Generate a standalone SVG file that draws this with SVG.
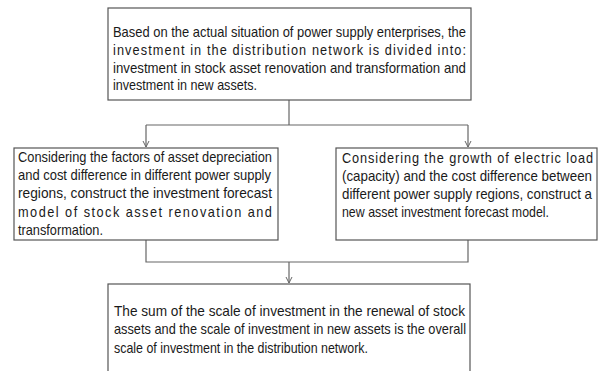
<svg xmlns="http://www.w3.org/2000/svg" width="598" height="371" viewBox="0 0 598 371">
<style>
.box{fill:#fff;stroke:#555;stroke-width:1.2}
.t{font-family:"Liberation Sans",Arial,sans-serif;font-size:14px;fill:#1a1a1a}
.c{fill:none;stroke:#666;stroke-width:1.2}
</style>
<defs>
<marker id="ah" markerWidth="8" markerHeight="8" refX="7" refY="4" orient="auto" markerUnits="userSpaceOnUse">
<path d="M1,1 L7,4 L1,7" fill="none" stroke="#666" stroke-width="1"/>
</marker>
</defs>
<rect width="598" height="371" fill="#fff"/>
<g id="connectors">
<path class="c" d="M289,100 V125"/>
<path class="c" d="M146,125 H468"/>
<path class="c" d="M146,125 V147" marker-end="url(#ah)"/>
<path class="c" d="M468,125 V147" marker-end="url(#ah)"/>
<path class="c" d="M146,240 V262 H468 V240"/>
<path class="c" d="M289,262 V283" marker-end="url(#ah)"/>
</g>
<g id="n1">
<rect class="box" x="108" y="8" width="363" height="92"/>
<g transform="scale(0.91,1)">
<text class="t" x="124.18" y="37" textLength="387.9" lengthAdjust="spacingAndGlyphs">Based on the actual situation of power supply enterprises, the</text>
<text class="t" x="124.18" y="55" textLength="387.9" lengthAdjust="spacing">investment in the distribution network is divided into:</text>
<text class="t" x="124.18" y="73" textLength="387.9" lengthAdjust="spacingAndGlyphs">investment in stock asset renovation and transformation and</text>
<text class="t" x="124.18" y="90" textLength="158.2" lengthAdjust="spacingAndGlyphs">investment in new assets.</text>
</g>
</g>
<g id="n2">
<rect class="box" x="14" y="148" width="264" height="92"/>
<g transform="scale(0.91,1)">
<text class="t" x="19.78" y="162" textLength="279.1" lengthAdjust="spacingAndGlyphs">Considering the factors of asset depreciation</text>
<text class="t" x="19.78" y="180" textLength="278" lengthAdjust="spacingAndGlyphs">and cost difference in different power supply</text>
<text class="t" x="19.78" y="198" textLength="279.1" lengthAdjust="spacingAndGlyphs">regions, construct the investment forecast</text>
<text class="t" x="19.78" y="217" textLength="279.1" lengthAdjust="spacing">model of stock asset renovation and</text>
<text class="t" x="19.78" y="235" textLength="93.4" lengthAdjust="spacingAndGlyphs">transformation.</text>
</g>
</g>
<g id="n3">
<rect class="box" x="336" y="148" width="261" height="92"/>
<g transform="scale(0.91,1)">
<text class="t" x="375.82" y="163" textLength="275.8" lengthAdjust="spacing">Considering the growth of electric load</text>
<text class="t" x="375.82" y="181" textLength="274.7" lengthAdjust="spacingAndGlyphs">(capacity) and the cost difference between</text>
<text class="t" x="375.82" y="199" textLength="274.7" lengthAdjust="spacingAndGlyphs">different power supply regions, construct a</text>
<text class="t" x="375.82" y="217" textLength="227.5" lengthAdjust="spacingAndGlyphs">new asset investment forecast model.</text>
</g>
</g>
<g id="n4">
<rect class="box" x="108" y="284" width="362" height="100"/>
<g transform="scale(0.91,1)">
<text class="t" x="125.27" y="316" textLength="385.7" lengthAdjust="spacingAndGlyphs">The sum of the scale of investment in the renewal of stock</text>
<text class="t" x="125.27" y="334" textLength="386.8" lengthAdjust="spacingAndGlyphs">assets and the scale of investment in new assets is the overall</text>
<text class="t" x="125.27" y="353" textLength="279.1" lengthAdjust="spacingAndGlyphs">scale of investment in the distribution network.</text>
</g>
</g>
</svg>
